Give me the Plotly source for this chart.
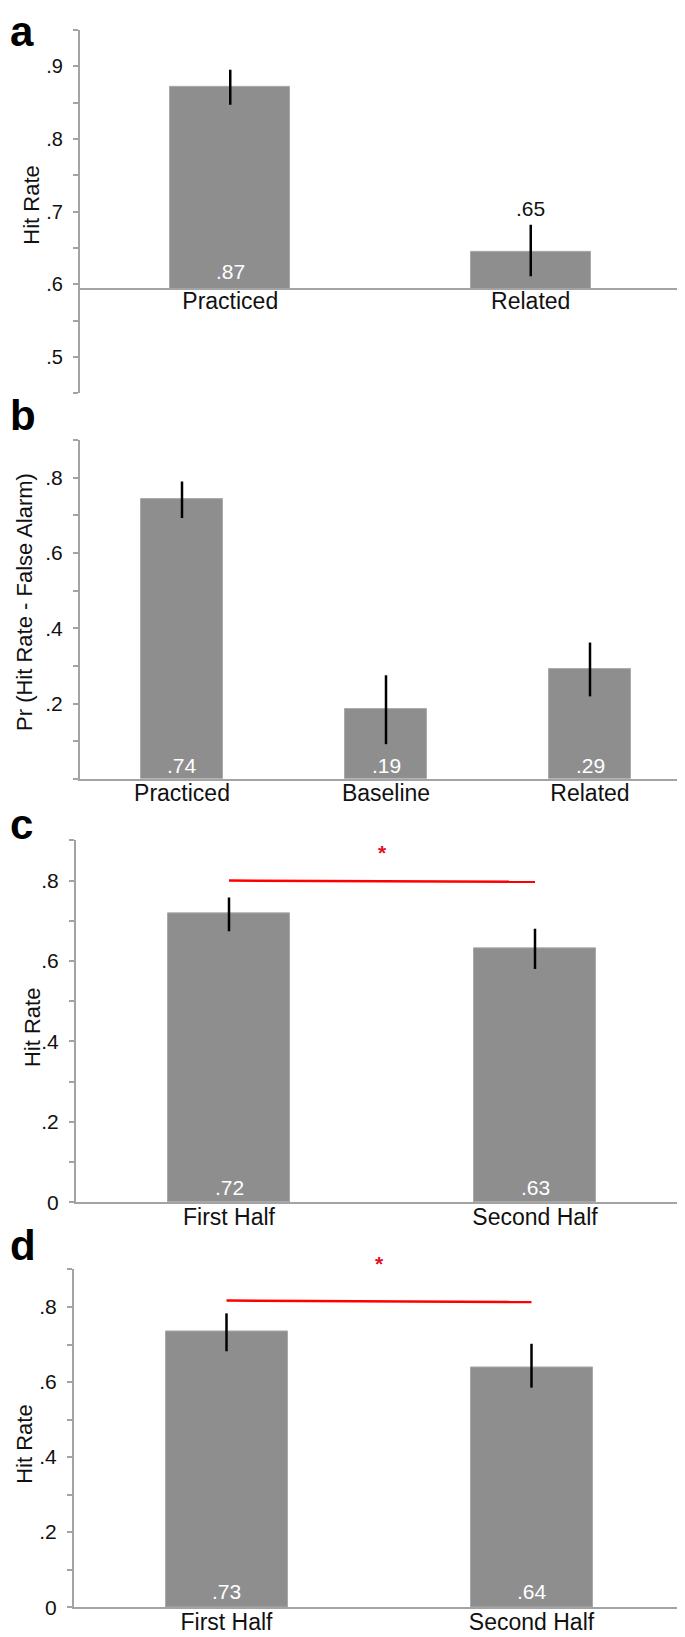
import plotly.graph_objects as go

W, H = 685, 1637

# ---------------- data ----------------
a_cats = ["Practiced", "Related"]
a_vals = [0.871, 0.645]
a_err_up = [0.024, 0.037]
a_err_dn = [0.024, 0.034]
a_labels = [".87", ".65"]
a_base = 0.593
a_tickvals = [0.45, 0.5, 0.55, 0.6, 0.65, 0.7, 0.75, 0.8, 0.85, 0.9, 0.95]
a_ticktext = ["", ".5", "", ".6", "", ".7", "", ".8", "", ".9", ""]

b_cats = ["Practiced", "Baseline", "Related"]
b_vals = [0.744, 0.185, 0.291]
b_err_up = [0.046, 0.090, 0.071]
b_err_dn = [0.051, 0.093, 0.072]
b_labels = [".74", ".19", ".29"]

c_cats = ["First Half", "Second Half"]
c_vals = [0.718, 0.631]
c_err_up = [0.040, 0.049]
c_err_dn = [0.044, 0.051]
c_labels = [".72", ".63"]
c_sig = [0.800, 0.797]
c_star = 0.878

d_cats = ["First Half", "Second Half"]
d_vals = [0.734, 0.640]
d_err_up = [0.049, 0.062]
d_err_dn = [0.052, 0.055]
d_labels = [".73", ".64"]
d_sig = [0.817, 0.813]
d_star = 0.924

tickvals_0_9 = [0.0, 0.1, 0.2, 0.3, 0.4, 0.5, 0.6, 0.7, 0.8, 0.9]
b_ticktext = ["", "", ".2", "", ".4", "", ".6", "", ".8", ""]
cd_ticktext = ["0", "", ".2", "", ".4", "", ".6", "", ".8", ""]

# ---------------- style ----------------
FONT = "Liberation Sans, Arial, sans-serif"
BAR = "#8e8e8e"
BAR_EDGE = "#a9a9a9"
AXIS = "#a3a3a3"
RED = "#ff0000"
YMAX = 0.9


def px_x(px):
    return px / W


def px_y(py):
    return 1 - py / H


fig = go.Figure()


def add_bars(cats, vals, eu, ed, xa, ya, base=None):
    if base is not None:
        heights = [v - base for v in vals]
        b = [base] * len(vals)
    else:
        heights = vals
        b = None
    fig.add_trace(go.Bar(
        x=cats, y=heights, base=b, width=0.40,
        marker=dict(color=BAR, line=dict(color=BAR_EDGE, width=1)),
        error_y=dict(type="data", symmetric=False, array=eu, arrayminus=ed,
                     color="black", thickness=2.5, width=0),
        xaxis=xa, yaxis=ya, showlegend=False, hoverinfo="skip",
    ))


add_bars(a_cats, a_vals, a_err_up, a_err_dn, "x", "y", base=a_base)
add_bars(b_cats, b_vals, b_err_up, b_err_dn, "x2", "y2")
add_bars(c_cats, c_vals, c_err_up, c_err_dn, "x3", "y3")
add_bars(d_cats, d_vals, d_err_up, d_err_dn, "x4", "y4")

# significance lines
fig.add_trace(go.Scatter(x=c_cats, y=c_sig, mode="lines", line=dict(color=RED, width=2.5),
                         xaxis="x3", yaxis="y3", showlegend=False, hoverinfo="skip"))
fig.add_trace(go.Scatter(x=d_cats, y=d_sig, mode="lines", line=dict(color=RED, width=2.5),
                         xaxis="x4", yaxis="y4", showlegend=False, hoverinfo="skip"))

ann = []
# value labels inside bars (white, near the base)
for cats, labels, xr, yr, base, shift in [
    (a_cats[:1], a_labels[:1], "x", "y", a_base, 4),
    (b_cats, b_labels, "x2", "y2", 0, 0),
    (c_cats, c_labels, "x3", "y3", 0, 1),
    (d_cats, d_labels, "x4", "y4", 0, 2),
]:
    for c, t in zip(cats, labels):
        ann.append(dict(x=c, y=base, xref=xr, yref=yr, text=t, showarrow=False,
                        yanchor="bottom", yshift=shift,
                        font=dict(family=FONT, size=21, color="white")))
# panel a Related label above error bar
ann.append(dict(x=a_cats[1], y=a_vals[1] + a_err_up[1], xref="x", yref="y", text=a_labels[1],
                showarrow=False, yanchor="bottom", yshift=3,
                font=dict(family=FONT, size=21, color="#111111")))

# stars (positioned in axis-domain units so they can sit above the axis top)
for xr, yr, sy in [("x3", "y3 domain", c_star), ("x4", "y4 domain", d_star)]:
    ann.append(dict(x=0.5, y=sy / YMAX, xref=xr, yref=yr, text="<b>*</b>", showarrow=False,
                    yanchor="middle", yshift=-3,
                    font=dict(family=FONT, size=21, color="#e0101c")))

# y-axis titles
for txt, cx, cy in [("Hit Rate", 24, 199), ("Pr (Hit Rate - False Alarm)", 17, 598),
                    ("Hit Rate", 24, 1027), ("Hit Rate", 16.5, 1446)]:
    ann.append(dict(x=px_x(cx), y=px_y(cy), xref="paper", yref="paper", text=txt,
                    textangle=-90, showarrow=False, xanchor="center", yanchor="middle",
                    font=dict(family=FONT, size=22, color="#111111")))

# panel letters
for txt, cy in [("a", 24), ("b", 410.5), ("c", 822), ("d", 1245.5)]:
    ann.append(dict(x=0, y=px_y(cy), xref="paper", yref="paper", text="<b>%s</b>" % txt,
                    showarrow=False, xanchor="left", yanchor="middle",
                    font=dict(family=FONT, size=42, color="black")))


def xaxis(dom, n, **kw):
    d = dict(domain=[px_x(dom[0]), px_x(dom[1])], range=[-0.5, n - 0.5], type="category",
             showline=True, linecolor=AXIS, linewidth=2, ticks="", showgrid=False,
             zeroline=False, fixedrange=True, ticklabelstandoff=-7,
             tickfont=dict(family=FONT, size=23, color="#111111"))
    d.update(kw)
    return d


def yaxis(dom, rng, tv, tt, fs, **kw):
    d = dict(domain=[px_y(dom[1]), px_y(dom[0])], range=rng, showline=True, linecolor=AXIS,
             linewidth=2, ticks="outside", ticklen=5, tickwidth=1.5, tickcolor=AXIS,
             tickvals=tv, ticktext=tt, showgrid=False, zeroline=False, fixedrange=True,
             ticklabelstandoff=6,
             tickfont=dict(family=FONT, size=fs, color="#111111"))
    d.update(kw)
    return d


fig.update_layout(
    width=W, height=H, margin=dict(l=0, r=0, t=0, b=0),
    paper_bgcolor="white", plot_bgcolor="white", showlegend=False,
    bargap=0,
    xaxis=xaxis((72, 673), 2, anchor="free", position=px_y(283), ticklabelstandoff=-9),
    yaxis=yaxis((22, 388), [0.45, 0.95], a_tickvals, a_ticktext, 20, anchor="x"),
    xaxis2=xaxis((72, 684), 3, anchor="y2"),
    yaxis2=yaxis((435, 776), [0, YMAX], tickvals_0_9, b_ticktext, 21, anchor="x2"),
    xaxis3=xaxis((68, 680), 2, anchor="y3"),
    yaxis3=yaxis((838, 1202.3), [0, YMAX], tickvals_0_9, cd_ticktext, 21, anchor="x3"),
    xaxis4=xaxis((66, 676), 2, anchor="y4"),
    yaxis4=yaxis((1270, 1610), [0, YMAX], tickvals_0_9, cd_ticktext, 21, anchor="x4"),
    annotations=ann,
)

fig.write_html("out.html")
